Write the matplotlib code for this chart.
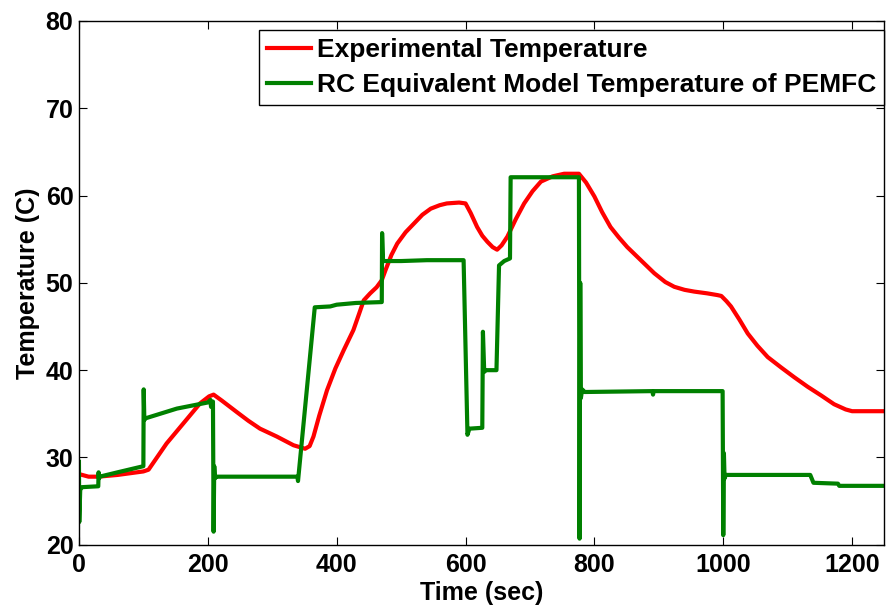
import matplotlib
matplotlib.use('Agg')
import matplotlib.pyplot as plt

plt.rcParams['font.family'] = ['Liberation Sans', 'DejaVu Sans']
plt.rcParams['font.weight'] = 'bold'

# Experimental temperature
exp_time = [0, 15, 30, 60, 100, 108, 122, 136, 162, 188, 202, 209, 222, 245,
            263, 281, 307, 333, 351, 358, 364, 373, 385, 398, 411, 426, 435,
            442, 452, 462, 470, 476, 485, 494, 507, 520, 533, 546, 560, 571,
            590, 600, 608, 618, 626, 634, 642, 649, 656, 665, 678, 691, 704,
            717, 735, 753, 776, 787, 800, 812, 825, 838, 851, 872, 893, 910,
            924, 940, 955, 975, 991, 997, 1005, 1012, 1025, 1038, 1053, 1069,
            1090, 1110, 1131, 1152, 1172, 1190, 1200, 1250]
exp_temp = [28.1, 27.8, 27.8, 28.0, 28.4, 28.6, 30.1, 31.6, 33.9, 36.2, 37.0,
            37.2, 36.5, 35.2, 34.2, 33.3, 32.4, 31.4, 31.0, 31.3, 32.4, 34.8,
            37.7, 40.2, 42.3, 44.6, 46.5, 48.0, 48.8, 49.5, 50.3, 51.5, 53.2,
            54.5, 55.8, 56.8, 57.8, 58.5, 58.9, 59.1, 59.2, 59.1, 58.0, 56.4,
            55.4, 54.7, 54.1, 53.8, 54.3, 55.3, 57.3, 59.1, 60.5, 61.6, 62.2,
            62.5, 62.5, 61.5, 59.9, 58.1, 56.4, 55.2, 54.1, 52.6, 51.1, 50.1,
            49.55, 49.2, 49.0, 48.8, 48.6, 48.5, 47.9, 47.3, 45.8, 44.2, 42.8,
            41.5, 40.3, 39.2, 38.1, 37.1, 36.1, 35.5, 35.3, 35.3]

# RC equivalent model temperature
rc_time = [0, 0.5, 2, 5, 30, 30.5, 31, 32, 60, 100, 100.5, 101.5, 104, 152,
           200, 204, 205, 206, 208, 209, 210, 211, 213, 300, 339, 340, 366,
           390, 400, 430, 470, 470.5, 472, 500, 540, 597, 603, 606, 626, 627,
           629, 631, 648, 652, 660, 669, 670, 776, 777, 778, 779, 781, 785,
           890, 891, 892, 999, 1000, 1001, 1002, 1004, 1135, 1140, 1178, 1180,
           1250]
rc_temp = [29.5, 22.6, 26.3, 26.6, 26.7, 28.3, 27.6, 27.8, 28.3, 29.0, 37.8,
           34.3, 34.5, 35.6, 36.3, 36.6, 35.8, 36.3, 36.4, 21.5, 29.0, 27.6,
           27.8, 27.8, 27.8, 27.3, 47.2, 47.3, 47.5, 47.7, 47.8, 55.7, 52.5,
           52.5, 52.6, 52.6, 32.6, 33.3, 33.4, 44.4, 39.8, 40.0, 40.0, 52.0,
           52.5, 52.8, 62.1, 62.1, 20.7, 50.0, 36.8, 37.8, 37.5, 37.6, 37.2,
           37.6, 37.6, 21.1, 30.5, 27.6, 28.0, 28.0, 27.1, 27.0, 26.75, 26.75]

fig = plt.figure(figsize=(8.87, 6.08), dpi=100)
ax = fig.add_axes([0.089, 0.104, 0.908, 0.8615])

ax.plot(exp_time, exp_temp, color='#ff0000', lw=3, label='Experimental Temperature')
ax.plot(rc_time, rc_temp, color='#008000', lw=3,
        label='RC Equivalent Model Temperature of PEMFC')

ax.set_xlim(0, 1250)
ax.set_ylim(20, 80)
ax.set_xticks(range(0, 1201, 200))
ax.set_yticks(range(20, 81, 10))
ax.tick_params(direction='in', top=True, right=True, length=6, width=0.8,
               labelsize=18)
ax.tick_params(axis='x', pad=6)
ax.tick_params(axis='y', pad=4)
for lab in ax.get_xticklabels() + ax.get_yticklabels():
    lab.set_fontweight('bold')
for s in ax.spines.values():
    s.set_linewidth(1.0)

ax.set_xlabel('Time (sec)', fontsize=18, fontweight='bold', labelpad=3)
ax.set_ylabel('Temperature (C)', fontsize=18, fontweight='bold', labelpad=4)

leg = ax.legend(loc='upper right', bbox_to_anchor=(1.0, 0.983), borderaxespad=0,
                prop={'weight': 'bold', 'size': 19}, fancybox=False,
                framealpha=1, edgecolor='black', handlelength=1.67,
                borderpad=0.3, labelspacing=0.42, handletextpad=0.25)
leg.get_frame().set_linewidth(1.0)

fig.savefig('out.png', dpi=100)
